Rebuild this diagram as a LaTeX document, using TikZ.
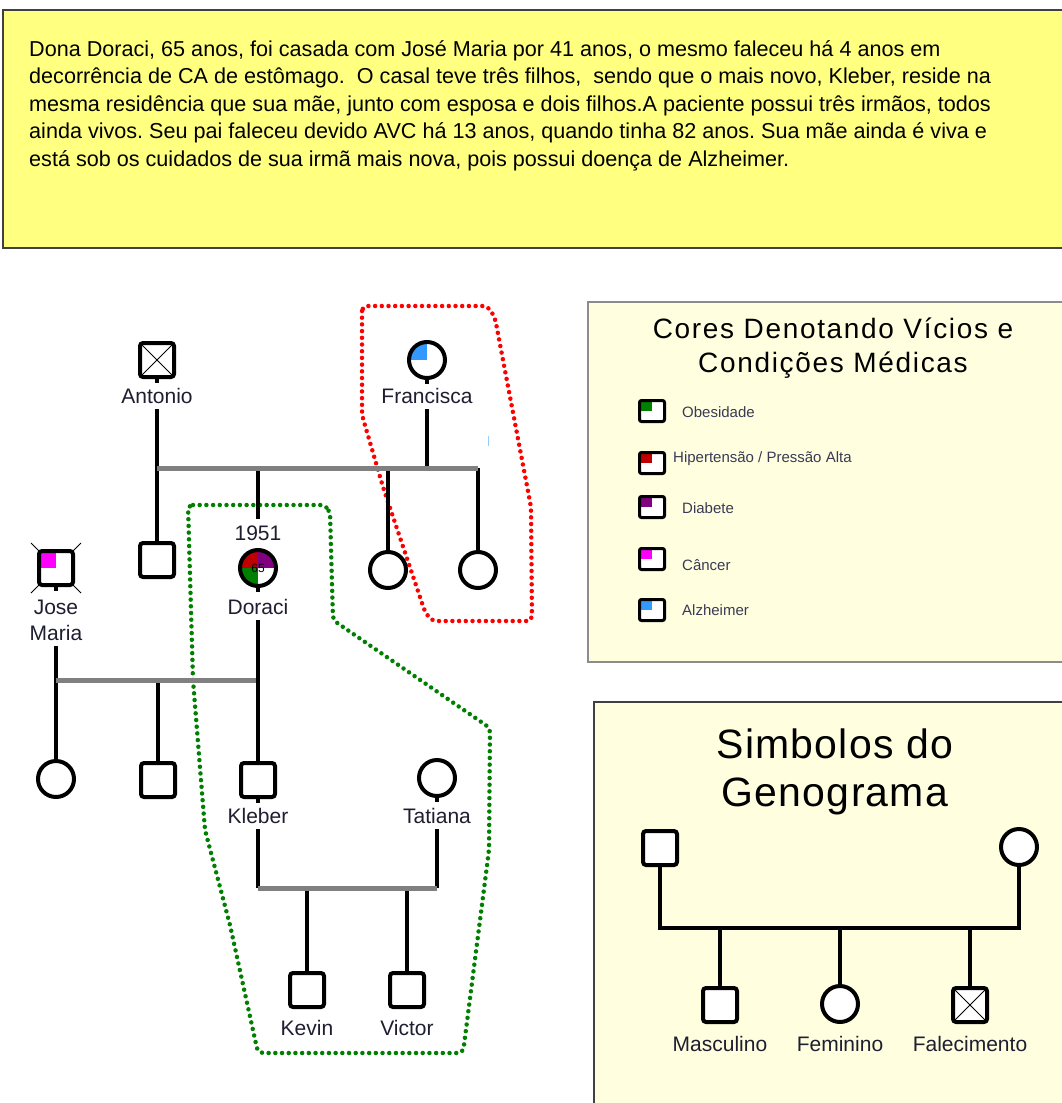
\documentclass[tikz,border=0pt]{standalone}
\usepackage{fontspec}
\setmainfont{Liberation Sans}
\frenchspacing
\definecolor{storybg}{HTML}{FFFF80}
\definecolor{legbg}{HTML}{FFFFE0}
\definecolor{bargray}{HTML}{808080}
\definecolor{obes}{HTML}{008000}
\definecolor{hiper}{HTML}{C00000}
\definecolor{diab}{HTML}{800080}
\definecolor{canc}{HTML}{FF00FF}
\definecolor{alz}{HTML}{3399FF}
\definecolor{dotred}{HTML}{FF0000}
\definecolor{dotgreen}{HTML}{008000}
\definecolor{labtxt}{HTML}{1E1E30}
\definecolor{smalltxt}{HTML}{3A3A55}
\tikzset{
  sym/.style={draw=black, line width=4, fill=white, inner sep=0pt},
  male/.style={sym, rectangle, rounded corners=3, minimum size=34},
  female/.style={sym, circle, minimum size=36},
  dead/.style={path picture={\draw[line width=0.9, black, sharp corners]
      (path picture bounding box.north west) -- (path picture bounding box.south east)
      (path picture bounding box.south west) -- (path picture bounding box.north east);}},
  quad/.style={path picture={\fill[#1, sharp corners]
      (path picture bounding box.center) rectangle (path picture bounding box.north west);}},
  link/.style={line width=4.5, black},
  sibbar/.style={line width=5, bargray},
  stub/.style={line width=4, black},
  pname/.style={font=\fontsize{21}{24}\selectfont, text=labtxt, anchor=base, inner xsep=1pt, inner ysep=6pt},
  storytext/.style={font=\fontsize{21.6}{24}\selectfont, text=black, anchor=base west, inner sep=0pt},
  legtitle/.style={font=\fontsize{28}{30}\selectfont\addfontfeature{LetterSpace=6}, text=black, anchor=base},
  symtitle/.style={font=\fontsize{41}{44}\selectfont\addfontfeature{LetterSpace=3}, text=black, anchor=base},
  leglabel/.style={font=\fontsize{15}{17}\selectfont, text=smalltxt, anchor=base west, inner sep=0pt},
  legicon/.style={draw=black, line width=3, rounded corners=2, minimum width=25, minimum height=21, inner sep=0pt, fill=white},
  dotline/.style={line width=4.5, dash pattern=on 0pt off 6.7pt, line cap=round, rounded corners=5},
  boxframe/.style={line width=1.5},
}
\begin{document}
\begin{tikzpicture}[x=1pt,y=-1pt]
\useasboundingbox (0,0) rectangle (1061,1103);
\fill[white] (0,0) rectangle (1061,1103);

% ---------- story box ----------
\draw[boxframe, draw=black!75, fill=storybg] (3,10) rectangle (1075,248);
\node[storytext] (s1) at (29,56) {Dona Doraci, 65 anos, foi casada com José Maria por 41 anos, o mesmo faleceu há 4 anos em};
\node[storytext] (s2) at (29,83.5) {decorrência de CA de estômago.\ \ O casal teve três filhos,\ \ sendo que o mais novo, Kleber, reside na};
\node[storytext] (s3) at (29,111) {mesma residência que sua mãe, junto com esposa e dois filhos.A paciente possui três irmãos, todos};
\node[storytext] (s4) at (29,138.5) {ainda vivos. Seu pai faleceu devido AVC há 13 anos, quando tinha 82 anos. Sua mãe ainda é viva e};
\node[storytext] (s5) at (29,166) {está sob os cuidados de sua irmã mais nova, pois possui doença de Alzheimer.};

% ---------- legend box ----------
\draw[boxframe, draw=black!45, fill=legbg] (588,302) rectangle (1075,662);
\node[legtitle] (lt1) at (833,338) {Cores Denotando Vícios e};
\node[legtitle] (lt2) at (833,372) {Condições Médicas};
\node[legicon, quad=obes] (li1) at (652,411) {};
\node[legicon, quad=hiper] (li2) at (652,463) {};
\node[legicon, quad=diab] (li3) at (652,507) {};
\node[legicon, quad=canc] (li4) at (652,559) {};
\node[legicon, quad=alz] (li5) at (652,610) {};
\node[leglabel] (ll1) at (682,417) {Obesidade};
\node[leglabel] (ll2) at (673,462) {Hipertensão / Pressão Alta};
\node[leglabel] (ll3) at (682,513) {Diabete};
\node[leglabel] (ll4) at (682,570) {Câncer};
\node[leglabel] (ll5) at (682,615) {Alzheimer};

% ---------- symbols box ----------
\draw[boxframe, draw=black!75, fill=legbg] (594,702) rectangle (1075,1110);
\node[symtitle] (st1) at (835,758) {Simbolos do};
\node[symtitle] (st2) at (835,806) {Genograma};
\node[male] (sm) at (660,848) {};
\node[female] (sf) at (1019,847) {};
\node[male] (sc1) at (720,1005) {};
\node[female] (sc2) at (840,1004) {};
\node[male, dead] (sc3) at (970,1005) {};
\coordinate (sb1) at (720,928);
\coordinate (sb2) at (840,928);
\coordinate (sb3) at (970,928);
\draw[link, line join=miter] (sm.south) |- (sb2) -| (sf.south);
\draw[link] (sb1) -- (sc1.north);
\draw[link] (sb2) -- (sc2.north);
\draw[link] (sb3) -- (sc3.north);
\node[pname] (scl1) at (720,1051) {Masculino};
\node[pname] (scl2) at (840,1051) {Feminino};
\node[pname] (scl3) at (970,1051) {Falecimento};

% ---------- dotted outlines ----------
\draw[dotline, dotred] (362,306) -- (362,415) -- (383,487) -- (425,612) -- (432,621)
   -- (532,621) -- (531,507) -- (495,318) -- (488,306) -- cycle;
\draw[dotline, dotgreen] (188,505) -- (325,505) -- (330,512) -- (333,620) -- (490,728)
   -- (489,850) -- (463,1053) -- (258,1053) -- (230,925) -- (205,830) -- (193,680) -- cycle;
\draw[line width=1, alz!50] (488,436) -- (488,446);

% ---------- generation 1 ----------
\node[male, dead] (antonio) at (157,360) {};
\node[female, quad=alz] (francisca) at (427,360) {};
\draw[stub] (antonio.south) -- ++(0,4);
\draw[stub] (francisca.south) -- ++(0,4);
\node[pname] (antonioL) at (157,403) {Antonio};
\node[pname] (franciscaL) at (427,403) {Francisca};

\coordinate (b1L) at (157,468);
\coordinate (b1D) at (258,468);
\coordinate (b1F) at (427,468);
\coordinate (b1C) at (388,468);
\coordinate (b1R) at (478,468);

% ---------- generation 2 ----------
\node[male] (tio) at (157,560) {};
\node[female] (tia1) at (388,570) {};
\node[female] (tia2) at (478,570) {};
\node[pname] (d1951) at (258,540) {1951};
\node[female, path picture={
    \fill[hiper, sharp corners] (path picture bounding box.center) rectangle (path picture bounding box.north west);
    \fill[diab, sharp corners] (path picture bounding box.center) rectangle (path picture bounding box.north east);
    \fill[obes, sharp corners] (path picture bounding box.center) rectangle (path picture bounding box.south west);},
    font=\fontsize{12}{12}\selectfont] (doraci) at (258,568) {65};
\draw[stub] (doraci.south) -- ++(0,4);
\node[pname] (doraciL) at (258,614) {Doraci};

\coordinate (jx1) at (31,543);
\coordinate (jx2) at (81,593);
\coordinate (jx3) at (31,593);
\coordinate (jx4) at (81,543);
\draw[line width=0.9] (jx1) -- (jx2) (jx3) -- (jx4);
\node[male, quad=canc] (jose) at (56,568) {};
\draw[stub] (jose.south) -- ++(0,4);
\node[pname] (joseL) at (56,614) {Jose};
\node[pname] (mariaL) at (56,640) {Maria};

\draw[link] (antonioL.south) -- (b1L);
\draw[link] (franciscaL.south) -- (b1F);
\draw[link] (b1L) -- (tio.north);
\draw[link] (b1D) -- (d1951.north);
\draw[link] (b1C) -- (tia1.north);
\draw[link] (b1R) -- (tia2.north);
\draw[sibbar] (b1L) -- (b1R);

% ---------- generation 3 ----------
\coordinate (b2L) at (56,680);
\coordinate (b2M) at (158,680);
\coordinate (b2R) at (258,680);
\node[female] (filha) at (56,779) {};
\node[male] (filho) at (158,780) {};
\node[male] (kleber) at (258,780) {};
\node[female] (tatiana) at (437,778) {};
\draw[stub] (kleber.south) -- ++(0,4);
\draw[stub] (tatiana.south) -- ++(0,4);
\node[pname] (kleberL) at (258,823) {Kleber};
\node[pname] (tatianaL) at (437,823) {Tatiana};

\draw[link] (mariaL.south) -- (b2L);
\draw[link] (b2L) -- (filha.north);
\draw[link] (b2M) -- (filho.north);
\draw[sibbar] (b2L) -- (b2R);
\draw[link] (doraciL.south) -- (kleber.north);

% ---------- generation 4 ----------
\coordinate (b3L) at (258,888);
\coordinate (b3K) at (307,888);
\coordinate (b3V) at (407,888);
\coordinate (b3R) at (437,888);
\node[male] (kevin) at (307,990) {};
\node[male] (victor) at (407,990) {};
\node[pname] (kevinL) at (307,1035) {Kevin};
\node[pname] (victorL) at (407,1035) {Victor};
\draw[link] (kleberL.south) -- (b3L);
\draw[link] (tatianaL.south) -- (b3R);
\draw[link] (b3K) -- (kevin.north);
\draw[link] (b3V) -- (victor.north);
\draw[sibbar] (b3L) -- (b3R);
\end{tikzpicture}
\end{document}
